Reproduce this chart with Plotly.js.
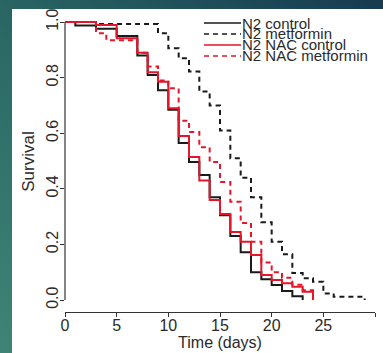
<!DOCTYPE html>
<html>
<head>
<meta charset="utf-8">
<script src="https://cdn.plot.ly/plotly-3.0.1.min.js"></script>
<style>
  html, body { margin:0; padding:0; width:383px; height:353px; overflow:hidden; }
  body { background: linear-gradient(to top right, #3f8476 0%, #2b6965 45%, #163a50 100%); position:relative; }
  #bg { position:absolute; left:12px; top:9px; width:371px; height:344px; background:#ffffff; }
  #plot { position:absolute; left:0; top:0; width:383px; height:353px; }
</style>
</head>
<body>
<div id="bg"></div>
<div id="plot"></div>
<script>
// Time (days) and survival fraction after each step
const n2ControlT = [0, 1, 3, 5, 7, 8, 9, 10, 11, 12, 13, 14, 15, 16, 17, 18, 19, 20, 21, 22, 23];
const n2ControlS = [1.0, 0.988, 0.976, 0.95, 0.88, 0.81, 0.755, 0.685, 0.565, 0.497, 0.45, 0.37, 0.305, 0.23, 0.172, 0.10, 0.075, 0.054, 0.033, 0.014, 0.0];

const n2MetforminT = [0, 3, 9, 10, 11, 12, 13, 14, 15, 16, 17, 18, 19, 20, 21, 22, 23, 24, 25, 26, 29];
const n2MetforminS = [1.0, 0.993, 0.96, 0.906, 0.87, 0.822, 0.75, 0.70, 0.61, 0.51, 0.44, 0.37, 0.28, 0.21, 0.165, 0.097, 0.078, 0.066, 0.024, 0.012, 0.0];

const nacControlT = [0, 3, 5, 7, 8, 9, 10, 11, 12, 13, 14, 15, 16, 17, 18, 19, 20, 21, 22, 23, 24];
const nacControlS = [1.0, 0.99, 0.942, 0.89, 0.82, 0.785, 0.69, 0.59, 0.515, 0.43, 0.36, 0.31, 0.245, 0.21, 0.162, 0.09, 0.072, 0.06, 0.048, 0.03, 0.01];

const nacMetforminT = [0, 3, 4, 7, 8, 9, 10, 11, 12, 13, 14, 15, 16, 17, 18, 19, 20, 21, 22, 23, 24];
const nacMetforminS = [1.0, 0.96, 0.935, 0.89, 0.84, 0.79, 0.762, 0.645, 0.605, 0.55, 0.497, 0.425, 0.354, 0.277, 0.21, 0.135, 0.10, 0.08, 0.055, 0.035, 0.0];

const seriesNames = ["N2 control", "N2 metformin", "N2 NAC control", "N2 NAC metformin"];
const xTicks = [0, 5, 10, 15, 20, 25, 30];
const yTicks = [0, 0.2, 0.4, 0.6, 0.8, 1.0];

const BLACK = "#1a1a1a", RED = "#e3162a";
const DASH = "5px,4px";
const styles = [
  {color: BLACK, dash: "solid"},
  {color: BLACK, dash: DASH},
  {color: RED, dash: "solid"},
  {color: RED, dash: DASH}
];
const xs = [n2ControlT, n2MetforminT, nacControlT, nacMetforminT];
const ys = [n2ControlS, n2MetforminS, nacControlS, nacMetforminS];

const W = 383, H = 353, ML = 65, MR = 8, MT = 11, MB = 41;
const pw = W - ML - MR, ph = H - MT - MB;
const px = v => (v - ML) / pw;
const py = v => 1 - (v - MT) / ph;
const FONT = "Liberation Sans, Arial, sans-serif";
const XR = [0, 30], YR = [-0.043, 1.04];

const traces = xs.map((x, i) => ({
  type: "scatter", mode: "lines", x: x, y: ys[i], name: seriesNames[i],
  line: {shape: "hv", color: styles[i].color, dash: styles[i].dash, width: 2},
  showlegend: false, hoverinfo: "skip"
}));
// empty carrier so the tick-label overlay axes are drawn (draws nothing)
traces.push({type: "scatter", mode: "none", x: XR, y: YR, xaxis: "x2", yaxis: "y2", showlegend: false, hoverinfo: "skip"});

const shapes = [
  {type: "line", xref: "paper", yref: "y", x0: 0, x1: 0, y0: 0, y1: 1, line: {color: "#333", width: 1.2}}
];
const annotations = [];
const legY = [23, 34, 45, 56];
seriesNames.forEach((n, i) => {
  shapes.push({type: "line", xref: "paper", yref: "paper", x0: px(204), x1: px(241), y0: py(legY[i]), y1: py(legY[i]),
    line: {color: styles[i].color, dash: styles[i].dash, width: 1.6}});
  annotations.push({xref: "paper", yref: "paper", x: px(240), y: py(legY[i]), xanchor: "left", yanchor: "middle",
    text: n, showarrow: false, font: {family: FONT, size: 15, color: "#2a2a2a"}});
});

const layout = {
  width: W, height: H,
  margin: {l: ML, r: MR, t: MT, b: MB, pad: 0},
  paper_bgcolor: "rgba(0,0,0,0)", plot_bgcolor: "rgba(0,0,0,0)",
  font: {family: FONT, size: 16, color: "#2a2a2a"},
  showlegend: false,
  xaxis: {
    range: XR, tickvals: xTicks, showticklabels: false,
    showline: true, linecolor: "#333", linewidth: 1.2, ticks: "outside", ticklen: 4, tickcolor: "#333",
    showgrid: false, zeroline: false,
    title: {text: "Time (days)", font: {size: 16}, standoff: 20}
  },
  xaxis2: {
    overlaying: "x", anchor: "free", position: 0.0, side: "bottom",
    range: XR, tickvals: xTicks, ticktext: xTicks.map(String), ticks: "",
    ticklabelstandoff: 2,
    showline: false, showgrid: false, zeroline: false
  },
  yaxis: {
    range: YR, tickvals: yTicks, showticklabels: false,
    showline: false, ticks: "outside", ticklen: 4, tickcolor: "#333",
    showgrid: false, zeroline: false,
    title: {text: "Survival", font: {size: 17}, standoff: 21}
  },
  yaxis2: {
    overlaying: "y", anchor: "free", position: 0.0, side: "left",
    range: YR, tickvals: yTicks, ticktext: yTicks.map(v => v.toFixed(1)), tickangle: -90, ticks: "",
    ticklabelstandoff: 4,
    showline: false, showgrid: false, zeroline: false
  },
  shapes: shapes, annotations: annotations
};

Plotly.newPlot("plot", traces, layout, {staticPlot: true, displayModeBar: false});
</script>
</body>
</html>
